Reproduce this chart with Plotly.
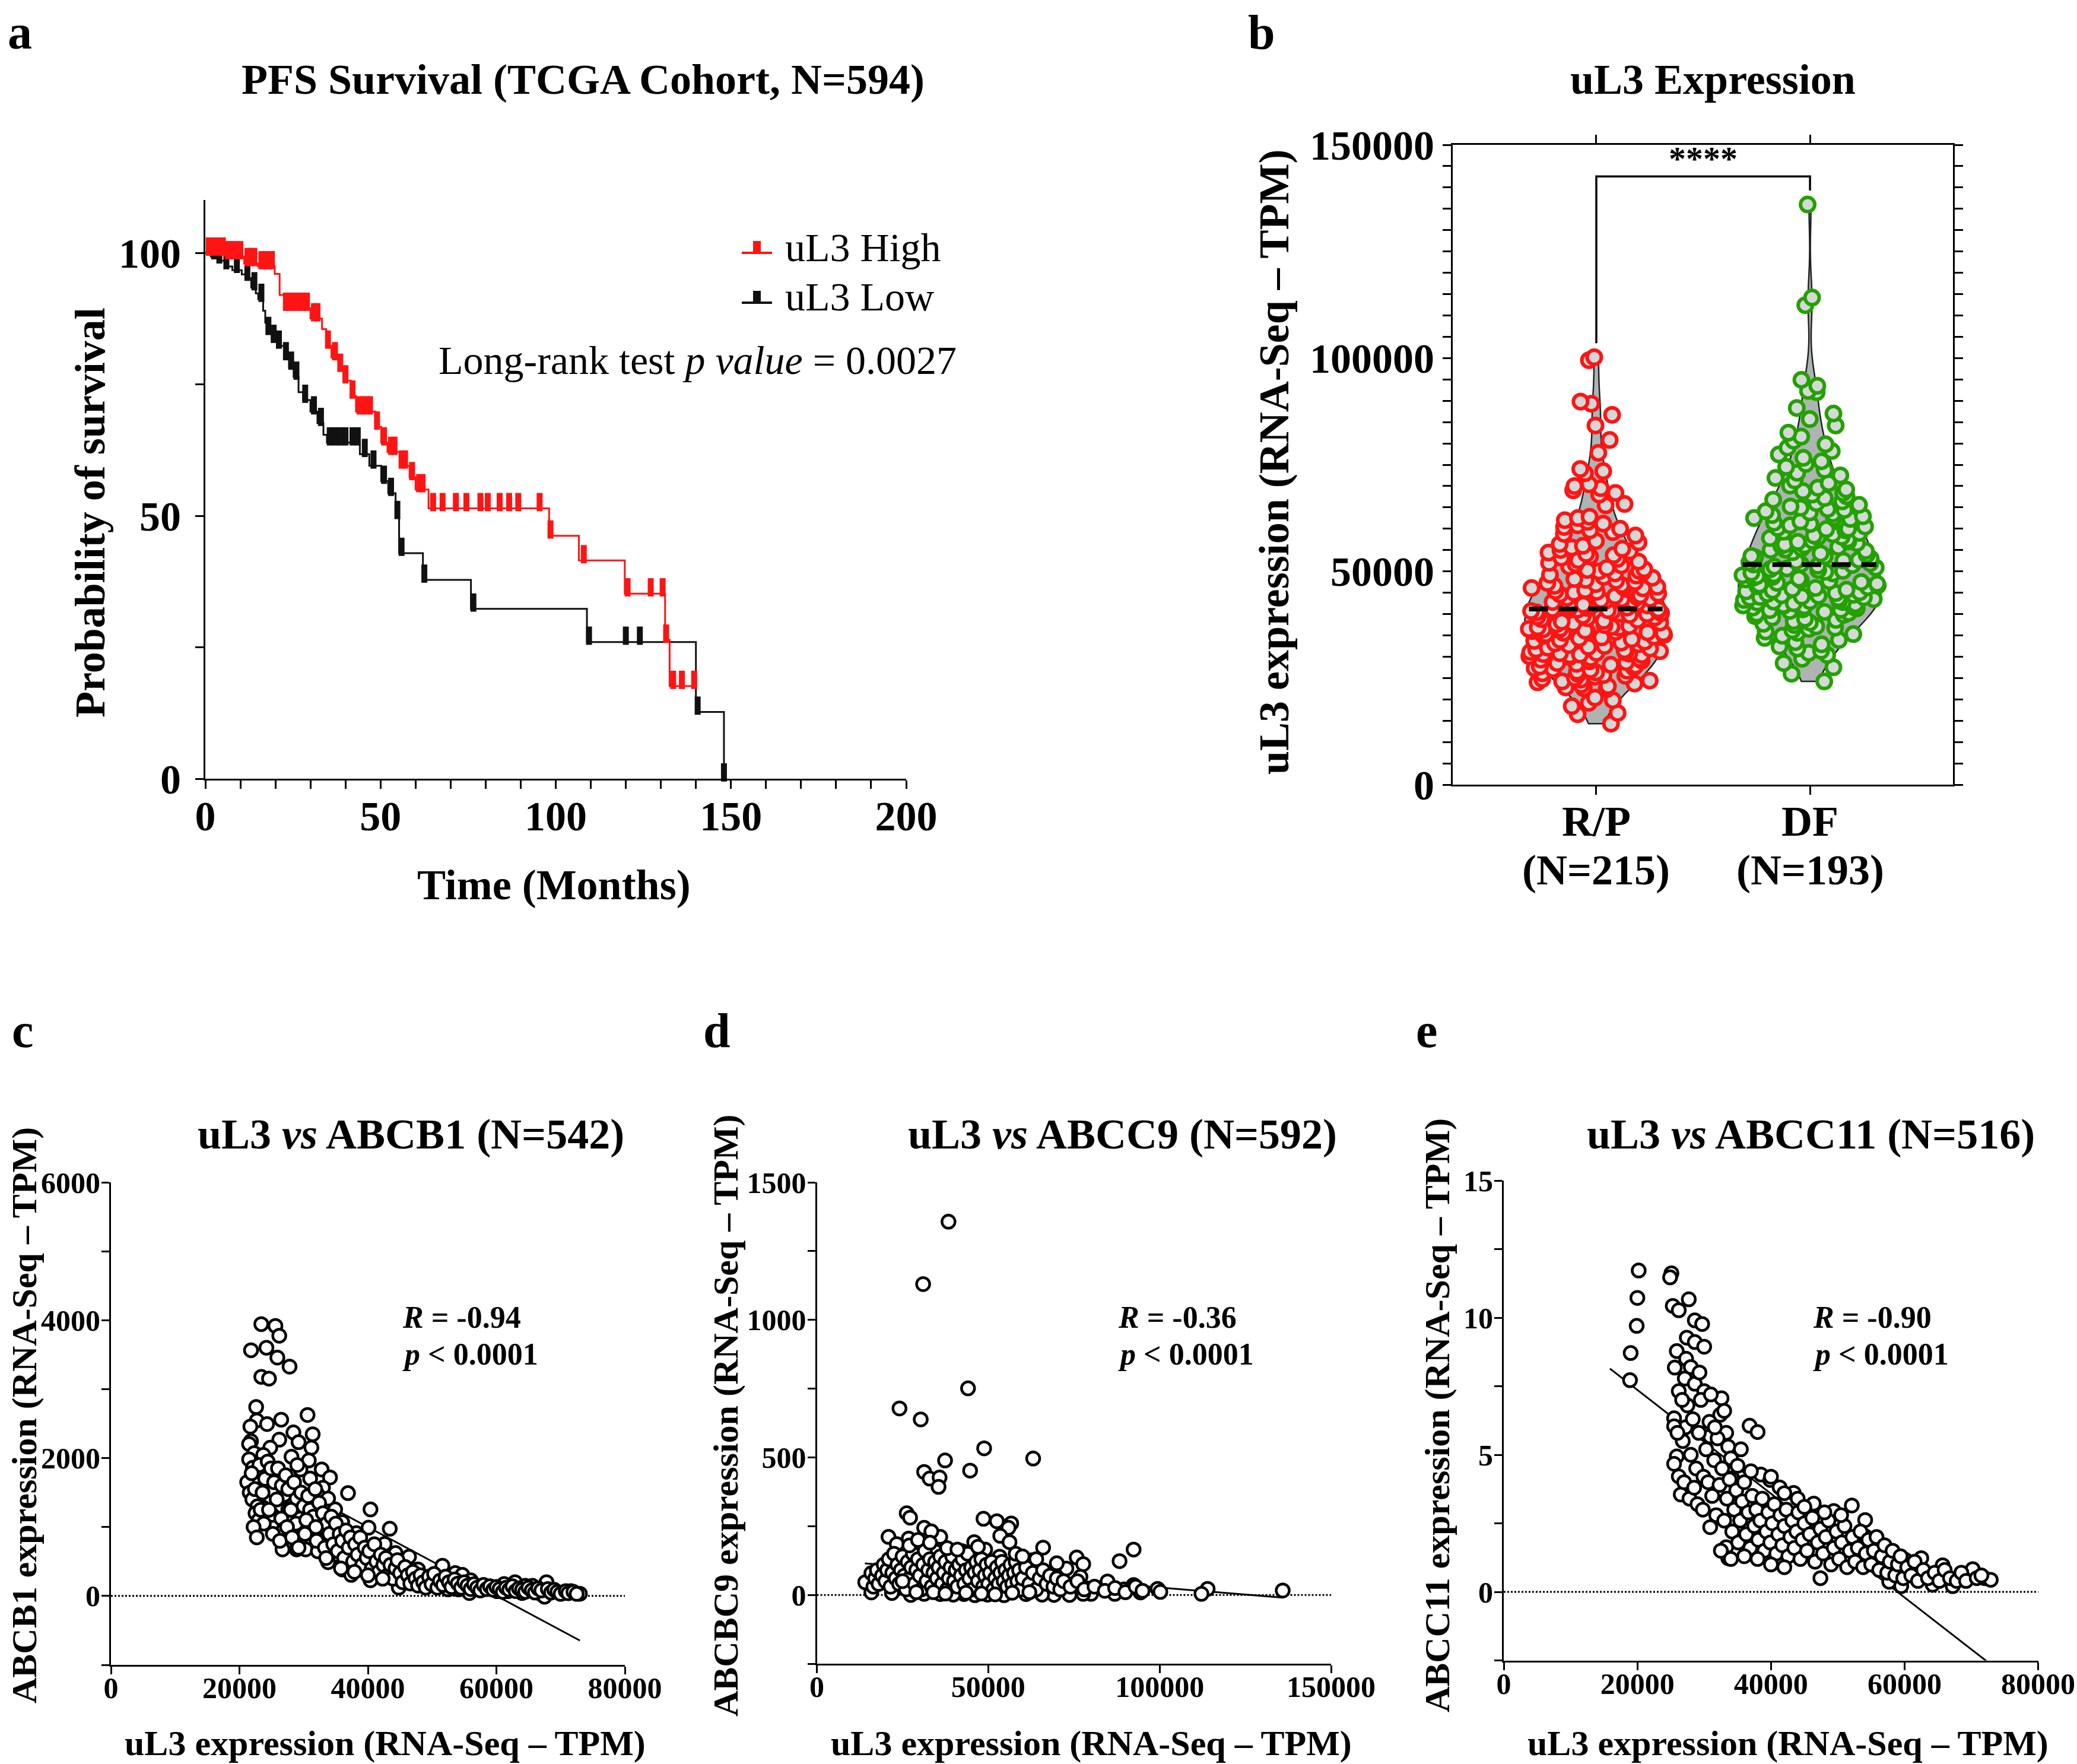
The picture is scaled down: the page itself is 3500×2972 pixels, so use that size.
import plotly.graph_objects as go

W, H = 3500, 2972
FONT = "Liberation Serif"
RED = "#ff1414"
GREEN = "#23a100"

# ---------------- Panel a : Kaplan-Meier (months, % survival) ----------------
high_t = [0, 5.7, 11.1, 15.0, 19.8, 21.2, 22.5, 30.0, 33.3, 34.5, 36.0, 38.1, 39.4, 41.5, 43.0,
          48.6, 50.2, 52.0, 55.6, 58.3, 60.0, 63.7, 98.1, 106.6, 119.7, 131.2, 132.5, 140.0]
high_s = [100, 99.3, 98.0, 97.4, 96.0, 92.0, 89.5, 87.5, 85.5, 82.3, 80.1, 77.9, 75.7, 72.8, 69.8,
          66.9, 63.9, 62.1, 59.5, 57.3, 55.0, 51.4, 46.2, 41.5, 35.2, 26.4, 17.6, 17.6]
low_t = [0, 1.6, 3.6, 5.7, 7.7, 10.4, 11.7, 13.1, 14.4, 15.1, 16.5, 17.1, 17.8, 19.2, 20.5, 22.5,
         23.9, 25.2, 26.6, 27.9, 30.0, 32.0, 33.7, 34.7, 44.1, 46.8, 50.2, 52.2, 54.3, 55.3, 62.1,
         75.8, 108.9, 140.0, 148.0]
low_s = [100, 99.3, 98.5, 97.4, 96.7, 95.9, 95.2, 93.4, 92.3, 91.2, 89.0, 86.7, 84.9, 83.4, 82.3,
         80.1, 78.3, 76.4, 73.5, 72.0, 69.8, 67.6, 65.4, 63.9, 61.7, 59.5, 56.6, 54.3, 49.9, 42.9,
         37.8, 32.3, 26.0, 12.7, 0]
high_cens = [1, 2, 3, 4, 5, 6.5, 7, 8, 9, 10, 12, 13, 14, 16, 17, 18, 19, 23, 24, 25, 26, 27, 28,
             29, 31, 32, 35, 37, 38.5, 40, 42, 44, 45, 46, 47, 49, 51, 53, 54, 56, 57, 59, 61, 62,
             65, 67.7, 71.5, 74.5, 78.5, 80.6, 84, 86.7, 89.3, 95.4, 98.5, 108, 120.5, 127.1,
             130.5, 131.5, 133.5, 136, 139.5]
low_cens = [1, 2.5, 4, 6, 9, 12, 14, 16, 18, 19.5, 21, 23, 24.5, 26, 28.5, 31, 33, 35.5, 37, 38.5,
            40, 42, 43.5, 45.5, 48, 51, 53, 54.8, 56, 62.5, 76.5, 109.5, 120, 124, 140.5, 148]

# ---------------- Panel b : uL3 TPM (thousands) per group ----------------
groups = ["R/P", "DF"]
group_n = [215, 193]
rp_k = [100.2, 99.5, 89.8, 89.3, 86.7, 84.2, 80.8, 77.8, 74.0, 73.5, 73.0,
        70.4, 70.0, 69.5, 69.0, 68.4, 68.0, 65.8, 65.5,
        62.8, 62.5, 62.0, 61.6, 61.2, 60.8, 60.4, 60.0, 59.6, 59.2, 58.8, 58.4,
        57.1, 56.8, 56.4, 56.0, 55.6, 55.3, 55.0, 54.7, 54.4, 54.1,
        53.8, 53.5, 53.2, 52.9, 52.6, 52.3, 52.0, 51.7, 51.4, 51.1, 50.8, 50.5, 50.3, 50.1, 50.0,
        49.8, 49.5, 49.2, 49.0, 48.7, 48.5, 48.2, 48.0, 47.8, 47.5, 47.3, 47.0, 46.8, 46.6, 46.4,
        46.2, 46.1, 46.0,
        45.8, 45.6, 45.4, 45.2, 45.0, 44.8, 44.6, 44.4, 44.2, 44.0, 43.8, 43.6, 43.5, 43.3, 43.1,
        43.0, 42.8, 42.6, 42.5, 42.3, 42.2, 42.0, 41.9, 41.8, 41.6, 41.5, 41.4, 41.3, 41.2, 41.1,
        41.0, 40.9, 40.8, 40.7, 40.6,
        40.4, 40.2, 40.0, 39.8, 39.6, 39.4, 39.2, 39.0, 38.8, 38.6, 38.4, 38.2, 38.0, 37.8, 37.6,
        37.4, 37.2, 37.0, 36.9, 36.8, 36.6, 36.5, 36.4, 36.3, 36.2, 36.1, 36.0, 35.9, 35.8, 35.7,
        35.6, 35.5,
        35.3, 35.1, 34.9, 34.7, 34.5, 34.3, 34.1, 33.9, 33.7, 33.5, 33.3, 33.1, 32.9, 32.7, 32.5,
        32.3, 32.1, 31.9, 31.7, 31.5, 31.3, 31.1, 31.0, 30.9, 30.8, 30.7, 30.6, 30.5, 30.4, 30.3,
        30.1, 29.9, 29.7, 29.5, 29.3, 29.1, 28.9, 28.7, 28.5, 28.3, 28.1, 27.9, 27.7, 27.5, 27.3,
        27.1, 26.9, 26.7, 26.5, 26.3, 26.1, 25.9, 25.7, 25.5,
        25.3, 25.0, 24.8, 24.6, 24.4, 24.2, 24.0, 23.7, 23.4, 23.1, 22.8, 22.6, 22.4,
        20.4, 19.8, 19.2, 18.4, 16.8, 16.5, 14.3]
df_k = [136.0, 114.2, 112.4, 94.9, 93.5, 92.3, 92.0, 88.3, 87.0, 85.7, 84.2, 82.5, 81.6, 80.6,
        79.8, 79.0, 78.2, 77.4, 76.6, 75.8,
        75.2, 74.5, 73.8, 73.1, 72.5, 71.9, 71.3, 70.7, 70.1, 69.6,
        69.2, 68.8, 68.4, 68.0, 67.6, 67.2, 66.8, 66.4, 66.0, 65.6, 65.2, 64.9, 64.6, 64.4,
        64.1, 63.8, 63.5, 63.2, 62.9, 62.6, 62.3, 62.0, 61.7, 61.4, 61.1, 60.8, 60.5, 60.2, 59.9,
        59.6, 59.3, 59.0, 58.7, 58.4,
        58.1, 57.8, 57.5, 57.2, 56.9, 56.6, 56.3, 56.0, 55.7, 55.4, 55.1, 54.8, 54.5, 54.2, 53.9,
        53.6, 53.3, 53.0, 52.7, 52.4, 52.1, 51.9, 51.7, 51.6,
        55.0, 56.1, 57.0, 58.0, 60.0, 62.5, 52.5, 53.5,
        51.5, 51.3, 51.1, 50.9, 50.7, 50.5, 50.3, 50.1, 49.9, 49.7, 49.5, 49.3, 49.1, 48.9, 48.7,
        48.5, 48.3, 48.1, 47.9, 47.7, 47.5, 47.3, 47.1, 46.9, 46.7, 46.5, 46.3, 46.1, 45.9, 45.7,
        45.5, 45.3, 45.1, 44.9,
        44.7, 44.5, 44.3, 44.1, 43.9, 43.7, 43.5, 43.3, 43.1, 42.9, 42.7, 42.5, 42.3, 42.1, 41.9,
        41.7, 41.5, 41.3, 41.1, 40.9, 40.7, 40.5, 40.3, 40.1, 43.0, 42.0, 41.0, 44.0, 41.8, 42.8,
        43.8, 44.4,
        39.8, 39.5, 39.2, 38.9, 38.6, 38.3, 38.0, 37.7, 37.4, 37.1, 36.8, 36.5, 36.2, 35.9, 35.6,
        35.3,
        34.9, 34.4, 33.9, 33.4, 32.9, 32.4, 31.9, 31.4, 30.9, 30.4,
        29.5, 28.5, 27.5, 26.0, 24.2]
rp_median_k = 41.2
df_median_k = 51.6
bracket_k = [103.5, 142.6, 139.3]   # left start, top, right end

# ---------------- Panel c : uL3 (thousands) vs ABCB1 ----------------
c_pts = [(23.4,3943),(25.6,3917),(26.2,3775),(21.8,3564),(24.2,3601),(25.9,3458),(27.8,3327),(23.4,3179),(24.6,3153),
 (22.6,2741),(30.6,2625),(26.5,2557),(22.7,2546),(21.7,2457),(24.3,2494),(28.4,2372),(31.4,2346),(26.2,2267),(29.2,2230),
 (21.8,2246),(31.2,2151),(21.5,2204),(24.8,2151),(22.3,2072),(23.7,2046),(28.1,2019),(21.5,1982),(22.1,1861),(30.8,1966),
 (23.4,1808),(29.5,1835),(32.8,1835),(34.1,1719),(22.9,1650),(31.0,1703),(36.9,1492),(33.0,1571),(25.1,1518),(27.0,1466),
 (32.2,1466),(33.8,1413),(24.3,1360),(28.9,1413),(34.9,1255),(40.4,1255),(23.7,1281),(26.2,1255),(27.6,1255),(25.1,1176),
 (32.8,1202),(26.5,1123),(29.5,1123),(30.6,1070),(36.0,1070),(40.1,991),(43.4,975),(26.9,965),(31.7,938),(34.9,938),
 (38.2,912),(29.5,833),(33.8,833),(36.6,780),(42.6,754),(26.7,675),(28.9,675),(30.3,675),(32.2,648),(34.9,596),(38.2,569),
 (41.0,596),(44.3,622),(46.4,569),(33.8,490),(36.0,385),(37.4,306),(39.3,385),(40.4,227),(42.1,464),(43.7,306),(44.8,121),
 (45.9,279),(47.8,385),(49.2,200),(50.8,253),(51.6,438),(53.6,332),(54.7,306),(56.0,227),(52.5,95),(56.8,95),(58.5,121),
 (60.1,69),(61.2,174),(62.9,200),(64.5,148),(65.6,148),(67.8,200),(68.9,69),(70.5,42),(71.6,69),(73.0,32),(64.0,42),
 (67.0,26),(67.5,-11),(61.8,69),(55.8,42),(54.1,95),
 (21.2,1650),(21.6,1500),(22.0,1400),(22.4,1550),(22.8,1300),(23.1,1900),(23.6,1500),(24.0,1700),(21.9,1780),(22.5,1200),
 (23.0,1100),(23.8,1050),(24.4,1950),(24.9,1850),(25.4,1650),(25.8,1400),(26.0,1850),(26.6,1600),(27.2,1750),(27.6,1550),
 (28.0,1250),(28.5,1650),(28.8,1050),(29.0,1900),(29.6,1500),(30.0,1300),(30.2,900),(30.7,1450),(31.0,1250),(31.5,1150),
 (31.8,1550),(32.0,800),(32.4,1350),(32.6,1000),(33.0,1200),(33.3,700),(33.6,1050),(34.0,900),(34.3,1150),(34.6,750),
 (35.0,1050),(35.3,650),(35.6,900),(36.0,800),(36.3,550),(36.6,950),(37.0,700),(37.3,850),(37.7,500),(38.0,750),
 (38.4,600),(38.8,850),(39.1,450),(39.5,700),(39.8,550),(40.2,650),(40.6,400),(41.0,750),(41.3,500),(41.7,350),
 (42.0,600),(42.4,450),(42.8,550),(43.1,300),(43.5,450),(43.9,250),(44.3,400),(44.6,520),(45.0,330),(45.4,200),
 (45.8,420),(46.2,300),(46.6,180),(47.0,350),(47.4,250),(47.8,150),(48.2,300),(48.6,200),(49.0,120),(49.5,280),
 (49.9,170),(50.3,320),(50.8,120),(51.2,220),(51.7,160),(52.1,280),(52.6,200),(53.0,130),(53.5,240),(54.0,180),
 (54.5,120),(55.0,200),(55.5,150),(56.0,100),(56.5,170),(57.0,120),(57.5,80),(58.0,160),(58.5,100),(59.0,140),
 (59.5,90),(60.0,130),(60.5,100),(61.0,60),(61.5,120),(62.0,90),(62.5,140),(63.0,70),(63.5,110),(64.0,90),
 (64.5,60),(65.0,120),(65.5,80),(66.0,50),(66.5,110),(67.0,80),(68.0,100),(68.5,50),(69.0,90),(69.5,60),
 (70.0,30),(70.8,70),(71.2,40),(72.0,60),(72.5,30),(22.2,1000),(22.7,850),(23.3,1250),(24.6,1250),(25.2,900),
 (26.3,800),(27.4,1000),(28.2,850),(29.2,700),(30.4,1100),(31.9,1000),(33.5,550),(35.8,400),(37.9,350),(40.0,300),
 (42.3,250)]
c_fit_xk = [21.5, 73.0]
c_fit_y = [1922, -647]

# ---------------- Panel d : uL3 (thousands) vs ABCC9 ----------------
d_pts = [(38.4,1357),(31.0,1130),(44.1,751),(24.1,678),(30.3,638),(48.8,533),(37.4,489),(63.1,496),(31.3,447),(44.7,452),
 (32.9,423),(35.8,427),(35.5,393),
 (26.2,297),(27.2,281),(48.6,277),(52.5,268),(56.7,260),(55.9,244),(20.9,211),(26.8,205),(36.0,211),(31.3,244),(33.4,231),
 (53.5,215),(45.9,192),(49.1,165),(56.2,192),(66.0,172),(92.4,165),(23.3,185),(34.5,159),(42.4,159),(75.8,136),(88.3,123),
 (77.7,112),(62.7,126),(53.3,139),(72.8,96),(76.9,66),(84.8,49),(92.4,36),(99.4,22),(114.0,22),(112.2,4),(135.9,16),
 (100.2,11),(94.4,9),(86.9,4),(89.6,20),(80.0,4),(77.7,4),(73.7,0),(69.2,0),(65.7,1),(61.0,3),(54.6,-1),(49.8,1),(46.1,-1),
 (42.9,3),(39.8,1),(36.0,3),(31.3,4),(27.4,0),(21.9,7),(15.9,9),(14.1,46),(15.9,79),(18.6,59),
 (16.5,30),(17.0,60),(17.5,90),(18.0,40),(19.0,70),(19.5,110),(20.0,50),(20.5,90),(21.0,130),(21.5,30),(22.0,80),
 (22.5,150),(23.0,60),(23.5,110),(24.0,40),(24.5,90),(25.0,140),(25.5,70),(26.0,20),(26.5,120),(27.0,60),(27.5,100),
 (28.0,150),(28.5,40),(29.0,90),(29.5,130),(30.0,70),(30.5,20),(31.0,110),(31.5,160),(32.0,50),(32.5,90),(33.0,130),
 (33.5,30),(34.0,80),(34.5,120),(35.0,60),(35.5,100),(36.0,140),(36.5,40),(37.0,80),(37.5,120),(38.0,20),(38.5,60),
 (39.0,100),(39.5,140),(40.0,50),(40.5,90),(41.0,30),(41.5,110),(42.0,70),(42.5,130),(43.0,40),(43.5,90),(44.0,150),
 (44.5,60),(45.0,100),(45.5,20),(46.0,80),(46.5,120),(47.0,50),(47.5,90),(48.0,130),(48.5,30),(49.0,70),(49.5,110),
 (50.0,40),(50.5,80),(51.0,120),(51.5,20),(52.0,60),(52.5,100),(53.0,40),(53.5,80),(54.0,120),(54.5,50),(55.0,90),
 (55.5,30),(56.0,70),(56.5,110),(57.0,40),(57.5,80),(58.0,120),(58.5,50),(59.0,90),(59.5,20),(60.0,60),(61.0,100),
 (62.0,40),(63.0,80),(64.0,20),(65.0,60),(66.0,90),(67.0,40),(68.0,70),(69.0,30),(70.0,60),(71.0,20),(72.0,50),
 (74.0,30),(76.0,50),(78.0,20),(81.0,30),(84.0,15),(87.0,25),(90.0,10),(93.0,30),(95.0,15),(27.0,180),(29.5,200),
 (33.0,190),(38.0,170),(41.0,165),(47.0,175),(58.0,150),(60.0,140),(64.0,130),(70.0,115),(25.0,50),(29.0,10),(34.0,10),
 (37.5,5),(43.5,8),(48.0,5),(52.0,2),(57.0,8),(62.0,10)]
d_fit_xk = [14.0, 136.0]
d_fit_y = [114.7, -9.7]

# ---------------- Panel e : uL3 (thousands) vs ABCC11 ----------------
e_pts = [(20.2,11.72),(25.1,11.62),(24.9,11.47),(20.0,10.72),(27.7,10.67),(25.3,10.43),(26.2,10.27),(19.9,9.70),(28.6,9.90),
 (29.7,9.77),(27.4,9.27),(28.6,9.11),(30.0,8.94),(19.0,8.71),(25.9,8.78),(18.9,7.72),(25.6,8.18),(27.1,7.78),(26.2,7.32),
 (28.6,7.59),(30.0,7.32),(32.6,7.06),(32.4,6.46),(25.5,6.33),(27.2,6.0),(25.5,6.04),(36.8,6.06),(38.0,5.83),(33.3,5.80),
 (30.9,5.67),(33.6,5.30),(25.9,4.94),(25.5,4.67),(26.2,4.21),(26.5,3.55),(34.0,4.87),(34.2,4.14),(38.5,4.28),(39.9,4.08),
 (41.3,3.81),(43.4,3.61),(46.4,3.22),(52.1,3.15),(49.4,2.95),(54.1,2.62),(30.9,2.36),(33.3,1.63),(33.6,1.23),(47.4,0.50),
 (54.1,2.03),(60.1,1.17),(62.5,1.23),(65.7,0.97),(70.2,0.83),(72.0,0.50),(72.9,0.44),(67.2,0.21),(64.2,0.26),(57.7,0.37),
 (59.5,0.21),
 (26.8,5.5),(27.5,6.8),(28.0,5.0),(28.3,6.3),(28.8,4.5),(29.2,5.8),(29.5,7.0),(29.9,4.2),(27.0,4.0),(27.8,3.4),(28.5,3.8),
 (29.0,3.2),(29.8,3.0),(30.3,5.2),(30.6,4.0),(30.8,6.2),(31.2,3.5),(31.5,4.8),(31.8,2.8),(32.0,5.6),(32.3,3.9),(32.7,4.5),
 (33.0,2.6),(33.4,3.4),(33.8,4.1),(34.2,2.2),(34.5,3.0),(34.8,3.7),(35.1,1.8),(35.4,2.6),(35.7,3.3),(36.0,4.0),(36.3,2.1),
 (36.6,2.9),(36.9,1.6),(37.2,3.5),(37.5,2.4),(37.8,3.0),(38.1,1.9),(38.4,2.6),(38.7,3.4),(39.0,1.5),(39.3,2.2),(39.6,2.9),
 (39.9,1.8),(40.2,2.5),(40.5,3.2),(40.8,1.4),(41.1,2.1),(41.4,2.8),(41.7,1.7),(42.0,2.4),(42.3,3.0),(42.6,1.3),(42.9,2.0),
 (43.2,2.6),(43.5,1.6),(43.8,2.2),(44.1,2.9),(44.4,1.2),(44.7,1.9),(45.0,2.5),(45.4,1.5),(45.8,2.1),(46.2,2.7),(46.6,1.1),
 (47.0,1.8),(47.4,2.3),(47.8,1.4),(48.2,2.0),(48.6,2.6),(49.0,1.0),(49.4,1.6),(49.8,2.2),(50.2,1.2),(50.6,1.8),(51.0,2.4),
 (51.4,0.9),(51.8,1.5),(52.2,2.0),(52.6,1.1),(53.0,1.6),(53.4,2.2),(53.8,0.9),(54.2,1.4),(54.6,1.9),(55.0,1.0),(55.4,1.5),
 (55.8,2.0),(56.2,0.8),(56.6,1.3),(57.0,1.7),(57.4,0.7),(57.8,1.1),(58.2,1.5),(58.6,0.6),(59.0,1.0),(59.4,1.3),(59.8,0.5),
 (60.4,0.9),(61.0,0.6),(61.5,1.1),(62.0,0.4),(62.8,0.8),(63.5,0.5),(64.5,0.7),(65.2,0.4),(66.0,0.8),(66.8,0.5),(67.8,0.4),
 (68.5,0.7),(69.2,0.4),(70.8,0.5),(71.5,0.6),(26.0,5.8),(26.7,7.0),(27.3,8.5),(28.0,8.2),(29.3,8.0),(31.0,7.2),(31.6,6.0),
 (33.0,6.6),(35.0,4.6),(35.5,5.2),(37.0,4.4),(40.0,4.2),(42.0,3.6),(44.0,3.4),(45.0,3.1),(48.0,2.9),(50.5,2.8),(32.5,1.5),
 (34.0,1.2),(36.0,1.3),(38.0,1.2),(40.0,1.0),(42.0,0.9)]
e_fit_xk = [15.9, 72.4]
e_fit_y = [8.14, -2.55]


# ---------------- helpers ----------------
def px(x):
    return x / W


def py(y):
    return 1 - y / H


def step_at(times, surv, t):
    v = surv[0]
    for ti, si in zip(times, surv):
        if ti <= t:
            v = si
    return v


def kx(vals):
    return [v * 1000 for v in vals]


CENS_LIFT = 1.2   # censor ticks sit on top of the curve (visual offset, % units)

fig = go.Figure()

# ---- Panel a traces
for t, s, cens, col in [(low_t, low_s, low_cens, "#111111"), (high_t, high_s, high_cens, RED)]:
    fig.add_trace(go.Scatter(x=t, y=s, mode="lines", line=dict(color=col, width=3, shape="hv"),
                             showlegend=False, xaxis="x", yaxis="y", cliponaxis=False))
    fig.add_trace(go.Scatter(x=cens, y=[step_at(t, s, c) + CENS_LIFT for c in cens], mode="markers",
                             marker=dict(symbol="line-ns", size=22, line=dict(color=col, width=10)),
                             showlegend=False, xaxis="x", yaxis="y", cliponaxis=False))

# ---- Panel b traces
for pos, vals, col in [(0, rp_k, RED), (1, df_k, GREEN)]:
    fig.add_trace(go.Violin(x0=pos, y=kx(vals), xaxis="x2", yaxis="y2", width=0.67,
                            spanmode="hard", points="all", pointpos=0, jitter=0.95,
                            fillcolor="#aeb4b2", line=dict(color="#222222", width=2.5),
                            marker=dict(size=24, color="#d4d9d7", line=dict(color=col, width=6)),
                            showlegend=False, hoveron="points"))

# ---- Panels c, d, e traces
for pts, fx, fy, xa, ya in [(c_pts, c_fit_xk, c_fit_y, "x3", "y3"),
                            (d_pts, d_fit_xk, d_fit_y, "x4", "y4"),
                            (e_pts, e_fit_xk, e_fit_y, "x5", "y5")]:
    fig.add_trace(go.Scatter(x=kx(fx), y=fy, mode="lines", line=dict(color="black", width=3),
                             xaxis=xa, yaxis=ya, showlegend=False))
    fig.add_trace(go.Scatter(x=kx([p[0] for p in pts]), y=[p[1] for p in pts], mode="markers",
                             marker=dict(symbol="circle", size=22, color="white",
                                         line=dict(color="black", width=4.5)),
                             xaxis=xa, yaxis=ya, showlegend=False))


def axis(domain, rng, fs, dtick=None, minor=None, standoff=0, ticklen=14, **kw):
    d = dict(domain=domain, range=rng, showline=True, linecolor="black", linewidth=3,
             ticks="outside", ticklen=ticklen, tickwidth=3, tickcolor="black",
             showgrid=False, zeroline=False, tickformat="d", fixedrange=True,
             automargin=False, ticklabelstandoff=standoff,
             tickfont=dict(family=FONT, size=fs, color="black", weight="bold"))
    if dtick is not None:
        d.update(tickmode="linear", tick0=0, dtick=dtick)
    if minor is not None:
        d["minor"] = dict(tick0=0, dtick=minor, ticks="outside", ticklen=ticklen, tickwidth=3,
                          tickcolor="black", showgrid=False)
    d.update(kw)
    return d


layout = dict(
    width=W, height=H, margin=dict(l=0, r=0, t=0, b=0, pad=0, autoexpand=False),
    paper_bgcolor="white", plot_bgcolor="white", showlegend=False,
    xaxis=axis([px(346), px(1527)], [0, 200], 70, dtick=50, minor=10, standoff=-14, anchor="y"),
    yaxis=axis([py(1312), py(1312 - 110 * 8.86)], [0, 110], 70, dtick=50, minor=25, standoff=10,
               anchor="x"),
    xaxis2=axis([px(2448), px(3291)], [-0.672, 1.669], 72, anchor="y2",
                tickmode="array", tickvals=[0, 1], ticktext=["", ""], mirror="ticks"),
    yaxis2=axis([py(1322), py(244)], [0, 150000], 70, dtick=50000, minor=5000, standoff=0,
                anchor="x2", mirror="ticks"),
    xaxis3=axis([px(187), px(1053)], [0, 80000], 50, dtick=20000, standoff=-20, ticklen=13,
                anchor="y3"),
    yaxis3=axis([py(2805), py(1992)], [-1000, 6000], 50, dtick=2000, minor=1000, standoff=-8,
                ticklen=13, anchor="x3"),
    xaxis4=axis([px(1376.5), px(2243)], [0, 150000], 50, dtick=50000, standoff=-20, ticklen=13,
                anchor="y4"),
    yaxis4=axis([py(2803), py(1992)], [-250, 1500], 50, dtick=500, minor=250, standoff=-8,
                ticklen=13, anchor="x4"),
    xaxis5=axis([px(2534), px(3434.6)], [0, 80000], 50, dtick=20000, standoff=-20, ticklen=13,
                anchor="y5"),
    yaxis5=axis([py(2797.5), py(1989)], [-2.5, 15], 50, dtick=5, minor=2.5, standoff=-8,
                ticklen=13, anchor="x5", tickformat=""),
)
fig.update_layout(**layout)

# ---- shapes
shapes = []
for xa, ya in [("x3", "y3"), ("x4", "y4"), ("x5", "y5")]:
    shapes.append(dict(type="line", xref=f"{xa} domain", yref=ya, x0=0, x1=1, y0=0, y1=0,
                       line=dict(color="black", width=3, dash="dot"), layer="below"))
for pos, med in [(0, rp_median_k), (1, df_median_k)]:
    shapes.append(dict(type="line", xref="x2", yref="y2", x0=pos - 0.315, x1=pos + 0.31,
                       y0=med * 1000, y1=med * 1000,
                       line=dict(color="black", width=8, dash="32px,18px")))
shapes.append(dict(type="path", xref="x2", yref="y2",
                   path=f"M 0,{bracket_k[0]*1000} V {bracket_k[1]*1000} H 1 V {bracket_k[2]*1000}",
                   line=dict(color="black", width=3.5)))
# legend keys of panel a (censor-tick symbol)
for col, yl in [(RED, 426), ("#111111", 510)]:
    shapes.append(dict(type="line", xref="paper", yref="paper", x0=px(1250), x1=px(1301),
                       y0=py(yl), y1=py(yl), line=dict(color=col, width=4)))
    shapes.append(dict(type="rect", xref="paper", yref="paper", x0=px(1269), x1=px(1282),
                       y0=py(yl), y1=py(yl - 20), line=dict(width=0), fillcolor=col))
fig.update_layout(shapes=shapes)

# ---- annotations
ann = []


def text(x, y, s, size, bold=True, angle=0, xanchor="center"):
    ann.append(dict(x=px(x), y=py(y), xref="paper", yref="paper", text=s, showarrow=False,
                    textangle=angle, xanchor=xanchor, yanchor="middle",
                    font=dict(family=FONT, size=size, color="black",
                              weight="bold" if bold else "normal")))


# panel letters
for s, x, y in [("a", 33, 54), ("b", 2126, 54), ("c", 38, 1736), ("d", 1208, 1736), ("e", 2404, 1736)]:
    text(x, y, s, 82)
# panel a
text(982, 134, "PFS Survival (TCGA Cohort, N=594)", 72)
text(933, 1491, "Time (Months)", 72)
text(152, 864, "Probability of survival", 72, angle=-90)
text(1321, 417, "uL3 High", 68, bold=False, xanchor="left")
text(1321, 500, "uL3 Low", 68, bold=False, xanchor="left")
text(737, 607, "Long-rank test <i>p value</i> = 0.0027", 68, bold=False, xanchor="left")
# panel b
text(2886, 134, "uL3 Expression", 72)
text(2147, 779, "uL3 expression (RNA-Seq – TPM)", 72, angle=-90)
for pos, g, n in zip([0, 1], groups, group_n):
    for s, yy in [(g, 1384), (f"(N={n})", 1466)]:
        ann.append(dict(x=pos, y=py(yy), xref="x2", yref="paper", text=s, showarrow=False,
                        yanchor="middle",
                        font=dict(family=FONT, size=72, color="black", weight="bold")))
ann.append(dict(x=0.5, y=(bracket_k[1] + 4.2) * 1000, xref="x2", yref="y2", text="****",
                showarrow=False, font=dict(family=FONT, size=58, color="black", weight="bold")))
# panels c-e
for title, cx, ytitle, yx, rtxt, rx, axc in [
        ("uL3 <i>vs</i> ABCB1 (N=542)", 692, "ABCB1 expression (RNA-Seq – TPM)", 41, "-0.94", 676, 649),
        ("uL3 <i>vs</i> ABCC9 (N=592)", 1891, "ABCBC9 expression (RNA-Seq – TPM)", 1223, "-0.36", 1882, 1839),
        ("uL3 <i>vs</i> ABCC11 (N=516)", 3051, "ABCC11 expression (RNA-Seq – TPM)", 2422, "-0.90", 3053, 3013)]:
    text(cx, 1911, title, 72)
    text(yx, 2385, ytitle, 60, angle=-90)
    text(axc, 2937, "uL3 expression (RNA-Seq – TPM)", 60)
    text(rx, 2219, f"<i>R</i> = {rtxt}", 52, xanchor="left")
    text(rx, 2281, "<i>p</i> &lt; 0.0001", 52, xanchor="left")

fig.update_layout(annotations=ann)
fig.write_html("out.html", config={"displayModeBar": False},
               post_script="document.body.style.margin='0px';")
